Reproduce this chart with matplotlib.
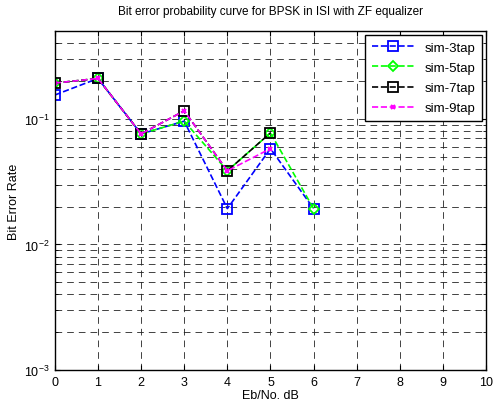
import numpy as np
import matplotlib
matplotlib.use('Agg')
import matplotlib.pyplot as plt
from matplotlib.ticker import LogLocator, NullFormatter

plt.rcParams['font.family'] = ['Liberation Sans', 'DejaVu Sans']

# Eb/No (dB)
ebno = [0, 1, 2, 3, 4, 5, 6]
# simulated BER, nan = no errors counted
ber3 = [0.155, 0.21, 0.076, 0.096, 0.0193, 0.058, 0.0193]
ber5 = [0.193, 0.21, 0.076, 0.096, 0.0386, 0.0774, 0.0193]
ber7 = [0.193, 0.21, 0.076, 0.116, 0.0386, 0.0774, np.nan]
ber9 = [0.193, 0.21, 0.076, 0.116, 0.0386, 0.058, np.nan]
labels = ['sim-3tap', 'sim-5tap', 'sim-7tap', 'sim-9tap']

fig = plt.figure(figsize=(4.94, 4.02), dpi=100)
ax = fig.add_axes([0.111, 0.077, 0.873, 0.843])

ax.semilogy(ebno, ber3, '--s', color='#0000ff', mfc='none', ms=7, lw=1.2, mew=1.3, label=labels[0])
ax.semilogy(ebno, ber5, '--D', color='#00ff00', mfc='none', ms=5.5, lw=1.2, mew=1.3, label=labels[1])
ax.semilogy(ebno, ber7, '--s', color='k', mfc='none', ms=7, lw=1.2, mew=1.3, label=labels[2])
ax.semilogy(ebno, ber9, '--x', color='#ff00ff', ms=3.5, lw=1.2, mew=1.5, label=labels[3])

ax.set_xlim(0, 10)
ax.set_ylim(1e-3, 0.5)
ax.set_xticks(range(11))
ax.yaxis.set_major_locator(LogLocator(base=10, numticks=10))
ax.yaxis.set_minor_locator(LogLocator(base=10, subs=np.arange(2, 10), numticks=20))
ax.yaxis.set_minor_formatter(NullFormatter())

ax.grid(True, which='both', color='#222222', linestyle=(0, (8, 6)), lw=0.6)
ax.tick_params(which='both', direction='in', top=True, right=True, labelsize=9, pad=4)
for s in ax.spines.values():
    s.set_linewidth(1)

ax.set_title('Bit error probability curve for BPSK in ISI with ZF equalizer', fontsize=8.5, pad=12)
ax.set_xlabel('Eb/No. dB', fontsize=9, labelpad=1)
ax.set_ylabel('Bit Error Rate', fontsize=9)
ax.yaxis.set_label_coords(-0.08, 0.5)

leg = ax.legend(loc='upper right', fontsize=9.5, fancybox=False, framealpha=1,
                edgecolor='k', handlelength=3.2, borderaxespad=0.3, labelspacing=0.6,
                borderpad=0.5)
leg.get_frame().set_linewidth(1)

fig.savefig('out.png', dpi=100)
